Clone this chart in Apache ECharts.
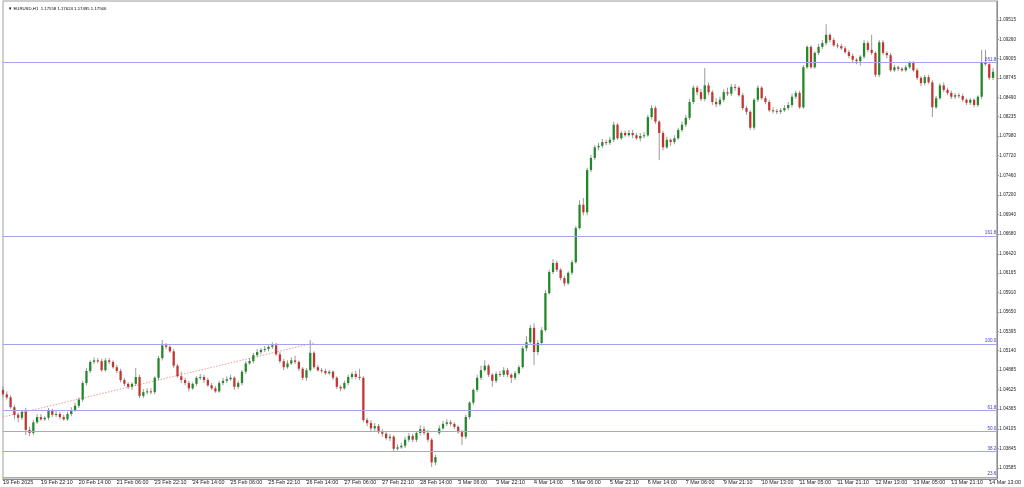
<!DOCTYPE html>
<html><head><meta charset="utf-8">
<script src="https://cdn.jsdelivr.net/npm/echarts@6/dist/echarts.min.js"></script>
<style>html,body{margin:0;padding:0;background:#fff}#c{width:1024px;height:487px}</style>
</head><body><div id="c"></div>
<script>
const headerText = '\u25BC EURUSD,H1  1.17558 1.17624 1.17495 1.17566';
const timeLabels = ['19 Feb 2025','19 Feb 22:10','20 Feb 14:00','21 Feb 06:00','23 Feb 22:10','24 Feb 14:00','25 Feb 06:00','25 Feb 22:10','26 Feb 14:00','27 Feb 06:00','27 Feb 22:10','28 Feb 14:00','3 Mar 06:00','3 Mar 22:10','4 Mar 14:00','5 Mar 06:00','5 Mar 22:10','6 Mar 14:00','7 Mar 06:00','9 Mar 21:10','10 Mar 13:00','11 Mar 05:00','11 Mar 21:10','12 Mar 13:00','13 Mar 05:00','13 Mar 21:10','14 Mar 13:00'];
const priceLabels = ['1.09515','1.09260','1.09005','1.08745','1.08490','1.08235','1.07980','1.07720','1.07460','1.07200','1.06940','1.06680','1.06420','1.06165','1.05910','1.05650','1.05395','1.05140','1.04885','1.04625','1.04365','1.04105','1.03845','1.03585'];

const openPrices = [1.0462,1.0456,1.0452,1.0439,1.0429,1.0425,1.0433,1.0409,1.0405,1.0419,
1.0426,1.0423,1.0425,1.0434,1.0429,1.0430,1.0426,1.0423,1.0430,1.0435,
1.0441,1.0449,1.0471,1.0487,1.0499,1.0501,1.0500,1.0488,1.0501,1.0499,
1.0492,1.0487,1.0475,1.0470,1.0466,1.0470,1.0479,1.0454,1.0459,1.0460,
1.0459,1.0478,1.0504,1.0521,1.0519,1.0513,1.0494,1.0480,1.0475,1.0471,
1.0464,1.0470,1.0478,1.0479,1.0475,1.0468,1.0464,1.0460,1.0471,1.0474,
1.0476,1.0478,1.0466,1.0471,1.0486,1.0497,1.0500,1.0508,1.0512,1.0515,
1.0516,1.0519,1.0521,1.0509,1.0500,1.0492,1.0497,1.0501,1.0499,1.0490,
1.0478,1.0488,1.0511,1.0492,1.0488,1.0487,1.0484,1.0486,1.0478,1.0466,
1.0464,1.0471,1.0479,1.0483,1.0479,1.0478,1.0422,1.0418,1.0411,1.0414,
1.0406,1.0404,1.0398,1.0400,1.0384,1.0386,1.0388,1.0396,1.0401,1.0396,
1.0405,1.0410,1.0405,1.0396,1.0366,1.0405,1.0411,1.0417,1.0419,1.0417,
1.0413,1.0406,1.0400,1.0426,1.0445,1.0462,1.0478,1.0488,1.0494,1.0482,
1.0474,1.0483,1.0482,1.0488,1.0482,1.0478,1.0484,1.0492,1.0517,1.0525,
1.0544,1.0512,1.0524,1.0541,1.0590,1.0618,1.0630,1.0621,1.0610,1.0603,
1.0617,1.0631,1.0676,1.0707,1.0697,1.0753,1.0769,1.0783,1.0785,1.0790,
1.0789,1.0793,1.0813,1.0795,1.0802,1.0799,1.0802,1.0799,1.0795,1.0798,
1.0799,1.0823,1.0835,1.0817,1.0802,1.0783,1.0793,1.0790,1.0795,1.0806,
1.0813,1.0822,1.0843,1.0862,1.0856,1.0847,1.0865,1.0856,1.0843,1.0840,
1.0846,1.0856,1.0854,1.0863,1.0862,1.0852,1.0835,1.0830,1.0809,1.0846,
1.0862,1.0848,1.0843,1.0832,1.0831,1.0830,1.0832,1.0835,1.0839,1.0850,
1.0855,1.0836,1.0889,1.0916,1.0889,1.0908,1.0916,1.0921,1.0932,1.0925,
1.0918,1.0917,1.0914,1.0909,1.0904,1.0899,1.0897,1.0903,1.0921,1.0912,
1.0908,1.0879,1.0922,1.0908,1.0905,1.0885,1.0889,1.0887,1.0885,1.0889,
1.0895,1.0885,1.0875,1.0868,1.0876,1.0869,1.0836,1.0848,1.0865,1.0859,
1.0855,1.0850,1.0852,1.0851,1.0846,1.0842,1.0846,1.0839,1.0850,1.0896,
1.0893,1.0875];

const closePrices = [1.0456,1.0452,1.0439,1.0429,1.0425,1.0433,1.0409,1.0405,1.0419,1.0426,
1.0423,1.0425,1.0434,1.0429,1.0430,1.0426,1.0423,1.0430,1.0435,1.0441,
1.0449,1.0471,1.0487,1.0499,1.0501,1.0500,1.0488,1.0501,1.0499,1.0492,
1.0487,1.0475,1.0470,1.0466,1.0470,1.0479,1.0454,1.0459,1.0460,1.0459,
1.0478,1.0504,1.0521,1.0519,1.0513,1.0494,1.0480,1.0475,1.0471,1.0464,
1.0470,1.0478,1.0479,1.0475,1.0468,1.0464,1.0460,1.0471,1.0474,1.0476,
1.0478,1.0466,1.0471,1.0486,1.0497,1.0500,1.0508,1.0512,1.0515,1.0516,
1.0519,1.0521,1.0509,1.0500,1.0492,1.0497,1.0501,1.0499,1.0490,1.0478,
1.0488,1.0511,1.0492,1.0488,1.0487,1.0484,1.0486,1.0478,1.0466,1.0464,
1.0471,1.0479,1.0483,1.0479,1.0478,1.0422,1.0418,1.0411,1.0414,1.0406,
1.0404,1.0398,1.0400,1.0384,1.0386,1.0388,1.0396,1.0401,1.0396,1.0405,
1.0410,1.0405,1.0396,1.0366,1.0373,1.0411,1.0417,1.0419,1.0417,1.0413,
1.0406,1.0400,1.0426,1.0445,1.0462,1.0478,1.0488,1.0494,1.0482,1.0474,
1.0483,1.0482,1.0488,1.0482,1.0478,1.0484,1.0492,1.0517,1.0525,1.0544,
1.0512,1.0524,1.0541,1.0590,1.0618,1.0630,1.0621,1.0610,1.0603,1.0617,
1.0631,1.0676,1.0707,1.0697,1.0753,1.0769,1.0783,1.0785,1.0790,1.0789,
1.0793,1.0813,1.0795,1.0802,1.0799,1.0802,1.0799,1.0795,1.0798,1.0799,
1.0823,1.0835,1.0817,1.0802,1.0783,1.0793,1.0790,1.0795,1.0806,1.0813,
1.0822,1.0843,1.0862,1.0856,1.0847,1.0865,1.0856,1.0843,1.0840,1.0846,
1.0856,1.0854,1.0863,1.0862,1.0852,1.0835,1.0830,1.0809,1.0846,1.0862,
1.0848,1.0843,1.0832,1.0831,1.0830,1.0832,1.0835,1.0839,1.0850,1.0855,
1.0836,1.0889,1.0916,1.0889,1.0908,1.0916,1.0921,1.0932,1.0925,1.0918,
1.0917,1.0914,1.0909,1.0904,1.0899,1.0897,1.0903,1.0921,1.0912,1.0908,
1.0879,1.0922,1.0908,1.0905,1.0885,1.0889,1.0887,1.0885,1.0889,1.0895,
1.0885,1.0875,1.0868,1.0876,1.0869,1.0836,1.0848,1.0865,1.0859,1.0855,
1.0850,1.0852,1.0851,1.0846,1.0842,1.0846,1.0839,1.0850,1.0896,1.0893,
1.0875,1.0883];

const highPrices = [1.0467,1.0460,1.0455,1.0442,1.0431,1.0435,1.0438,1.0413,1.0422,1.0430,
1.0430,1.0427,1.0438,1.0437,1.0434,1.0433,1.0429,1.0433,1.0439,1.0445,
1.0452,1.0474,1.0491,1.0501,1.0505,1.0504,1.0503,1.0504,1.0504,1.0501,
1.0495,1.0490,1.0478,1.0472,1.0472,1.0491,1.0482,1.0463,1.0464,1.0464,
1.0480,1.0507,1.0528,1.0524,1.0521,1.0516,1.0496,1.0486,1.0478,1.0474,
1.0472,1.0480,1.0483,1.0482,1.0478,1.0471,1.0467,1.0474,1.0478,1.0480,
1.0482,1.0480,1.0474,1.0488,1.0500,1.0504,1.0511,1.0516,1.0517,1.0520,
1.0521,1.0525,1.0524,1.0512,1.0503,1.0501,1.0505,1.0507,1.0501,1.0492,
1.0491,1.0528,1.0513,1.0495,1.0491,1.0490,1.0488,1.0488,1.0480,1.0468,
1.0474,1.0482,1.0486,1.0487,1.0490,1.0480,1.0425,1.0422,1.0418,1.0417,
1.0410,1.0406,1.0404,1.0402,1.0390,1.0392,1.0400,1.0405,1.0404,1.0407,
1.0415,1.0414,1.0409,1.0398,1.0376,1.0415,1.0421,1.0423,1.0422,1.0419,
1.0415,1.0409,1.0429,1.0447,1.0464,1.0482,1.0494,1.0501,1.0496,1.0484,
1.0486,1.0487,1.0492,1.0491,1.0484,1.0487,1.0495,1.0520,1.0533,1.0548,
1.0550,1.0528,1.0545,1.0594,1.0621,1.0635,1.0633,1.0623,1.0613,1.0619,
1.0634,1.0679,1.0713,1.0716,1.0756,1.0773,1.0786,1.0789,1.0794,1.0793,
1.0797,1.0817,1.0815,1.0805,1.0805,1.0806,1.0806,1.0802,1.0802,1.0803,
1.0826,1.0839,1.0838,1.0819,1.0805,1.0797,1.0795,1.0799,1.0809,1.0817,
1.0826,1.0847,1.0865,1.0865,1.0860,1.0888,1.0869,1.0859,1.0848,1.0850,
1.0860,1.0862,1.0867,1.0867,1.0864,1.0855,1.0838,1.0832,1.0848,1.0865,
1.0864,1.0851,1.0846,1.0836,1.0834,1.0835,1.0839,1.0843,1.0854,1.0858,
1.0858,1.0892,1.0918,1.0918,1.0910,1.0920,1.0925,1.0946,1.0934,1.0928,
1.0921,1.0920,1.0917,1.0912,1.0907,1.0901,1.0905,1.0925,1.0924,1.0932,
1.0910,1.0925,1.0925,1.0910,1.0908,1.0892,1.0891,1.0889,1.0892,1.0897,
1.0897,1.0888,1.0877,1.0879,1.0879,1.0872,1.0851,1.0868,1.0869,1.0862,
1.0858,1.0855,1.0855,1.0854,1.0848,1.0848,1.0848,1.0852,1.0912,1.0912,
1.0896,1.0888];

const lowPrices = [1.0452,1.0449,1.0437,1.0423,1.0419,1.0422,1.0402,1.0401,1.0402,1.0417,
1.0421,1.0421,1.0422,1.0426,1.0426,1.0423,1.0421,1.0421,1.0427,1.0433,
1.0438,1.0446,1.0468,1.0484,1.0496,1.0497,1.0486,1.0486,1.0496,1.0490,
1.0484,1.0472,1.0467,1.0463,1.0462,1.0467,1.0451,1.0451,1.0456,1.0456,
1.0456,1.0475,1.0501,1.0516,1.0511,1.0491,1.0478,1.0471,1.0468,1.0460,
1.0462,1.0467,1.0475,1.0471,1.0466,1.0462,1.0458,1.0458,1.0468,1.0471,
1.0474,1.0462,1.0463,1.0468,1.0483,1.0495,1.0497,1.0505,1.0509,1.0512,
1.0513,1.0516,1.0507,1.0497,1.0488,1.0490,1.0495,1.0496,1.0487,1.0475,
1.0474,1.0486,1.0490,1.0486,1.0484,1.0482,1.0482,1.0475,1.0463,1.0460,
1.0462,1.0468,1.0476,1.0476,1.0475,1.0419,1.0414,1.0407,1.0407,1.0404,
1.0400,1.0396,1.0394,1.0381,1.0382,1.0384,1.0385,1.0393,1.0393,1.0393,
1.0402,1.0402,1.0393,1.0360,1.0362,1.0402,1.0409,1.0414,1.0414,1.0410,
1.0404,1.0389,1.0397,1.0423,1.0442,1.0459,1.0475,1.0486,1.0479,1.0466,
1.0471,1.0479,1.0479,1.0479,1.0471,1.0475,1.0482,1.0490,1.0513,1.0523,
1.0495,1.0508,1.0521,1.0539,1.0588,1.0615,1.0618,1.0607,1.0599,1.0601,
1.0614,1.0629,1.0674,1.0693,1.0693,1.0750,1.0766,1.0779,1.0782,1.0786,
1.0786,1.0790,1.0793,1.0793,1.0797,1.0797,1.0795,1.0793,1.0791,1.0795,
1.0797,1.0820,1.0814,1.0766,1.0779,1.0781,1.0785,1.0787,1.0793,1.0803,
1.0810,1.0819,1.0840,1.0852,1.0844,1.0844,1.0852,1.0839,1.0836,1.0838,
1.0843,1.0851,1.0851,1.0858,1.0850,1.0832,1.0826,1.0806,1.0806,1.0843,
1.0846,1.0840,1.0830,1.0828,1.0827,1.0827,1.0830,1.0832,1.0836,1.0847,
1.0834,1.0834,1.0887,1.0887,1.0887,1.0905,1.0913,1.0918,1.0922,1.0916,
1.0914,1.0912,1.0907,1.0901,1.0896,1.0893,1.0891,1.0900,1.0909,1.0905,
1.0876,1.0876,1.0905,1.0901,1.0883,1.0883,1.0884,1.0883,1.0883,1.0887,
1.0883,1.0872,1.0864,1.0865,1.0867,1.0823,1.0834,1.0846,1.0856,1.0852,
1.0847,1.0847,1.0848,1.0843,1.0839,1.0839,1.0836,1.0836,1.0847,1.0891,
1.0872,1.0872];

const fibLevels = ['261.8','161.8','100.0','61.8','50.0','38.2','23.6'];
const fibPrices = [1.08955,1.06656,1.05227,1.04344,1.04068,1.03803,1.03466];
const trendBars = [0, 82];
const trendPrices = [1.0426, 1.0524];

// category axis: one slot per bar plus one empty slot on the right
const categories = [];
for (let i = 0; i <= openPrices.length; i++) {
  categories.push(i % 10 === 0 && timeLabels[i / 10] ? timeLabels[i / 10] : 'b' + i);
}
const candleData = openPrices.map((o, i) => [i, o, closePrices[i], lowPrices[i], highPrices[i]]);
const priceTickValues = priceLabels.map(parseFloat);

const GREEN = '#23882a', RED = '#c4352f', WICK = '#9a9a9a';
const FONT = 'Liberation Sans';

const chart = echarts.init(document.getElementById('c'), null, {renderer: 'canvas'});
chart.setOption({
  animation: false,
  backgroundColor: '#ffffff',
  title: {
    text: headerText, left: 3, top: 2,
    textStyle: {fontSize: 4.3, fontWeight: 'normal', color: '#000', fontFamily: FONT}
  },
  grid: {
    left: 0.7, right: 22.7, top: 1, bottom: 8,
    show: true, borderColor: '#9c9c9c', borderWidth: 1, backgroundColor: '#fff'
  },
  xAxis: {
    type: 'category', data: categories, boundaryGap: false,
    axisLine: {lineStyle: {color: '#8c8c8c', width: 1}},
    axisTick: {show: true, length: 2, interval: (idx) => idx % 10 === 0, lineStyle: {color: '#8c8c8c'}},
    axisLabel: {
      interval: (idx) => idx % 10 === 0, align: 'left', margin: 1.5,
      fontSize: 5.4, color: '#222', fontFamily: FONT,
      formatter: (v) => (v.charAt(0) === 'b' ? '' : v)
    },
    splitLine: {show: false}
  },
  yAxis: {
    type: 'value', position: 'right', min: 1.03440, max: 1.09767, scale: true,
    axisLine: {show: true, lineStyle: {color: '#8c8c8c', width: 1}},
    axisTick: {show: true, length: 2, customValues: priceTickValues, lineStyle: {color: '#8c8c8c'}},
    axisLabel: {
      customValues: priceTickValues, margin: 2.5, fontSize: 4.6, color: '#222', fontFamily: FONT,
      formatter: (v) => { const k = priceTickValues.findIndex(t => Math.abs(t - v) < 1e-7); return k >= 0 ? priceLabels[k] : ''; }
    },
    splitLine: {show: false}
  },
  series: [
    {
      type: 'line', name: 'trend', silent: true,
      data: trendBars.map((b, i) => [b, trendPrices[i]]),
      symbol: 'none', z: 1,
      lineStyle: {color: '#f29a9a', width: 1, type: [1.5, 1.5]},
      markLine: {
        silent: true, symbol: 'none', animation: false, precision: 6,
        lineStyle: {color: '#a3a3ea', width: 1, type: 'solid'},
        label: {position: 'insideEndTop', distance: 0.5, fontSize: 4.6, color: '#3a3ad6', fontFamily: FONT},
        data: fibPrices.map((p, i) => ({yAxis: p, label: {formatter: fibLevels[i]}}))
      }
    },
    {
      type: 'custom', name: 'EURUSD', z: 3, clip: false,
      data: candleData,
      encode: {x: 0, y: [1, 2, 3, 4]},
      renderItem: function (params, api) {
        const i = api.value(0);
        const o = api.value(1), c = api.value(2), l = api.value(3), h = api.value(4);
        const pO = api.coord([i, o]), pC = api.coord([i, c]);
        const pL = api.coord([i, l]), pH = api.coord([i, h]);
        const w = api.size([1, 0])[0] * 0.6;
        const top = Math.min(pO[1], pC[1]);
        const hgt = Math.max(Math.abs(pO[1] - pC[1]), 1);
        return {
          type: 'group',
          children: [
            {type: 'line', shape: {x1: pH[0], y1: pH[1], x2: pL[0], y2: pL[1]}, style: {stroke: WICK, lineWidth: 1}},
            {type: 'rect', shape: {x: pO[0] - w / 2, y: top, width: w, height: hgt}, style: {fill: c >= o ? GREEN : RED}}
          ]
        };
      }
    }
  ]
});
</script>
</body></html>
